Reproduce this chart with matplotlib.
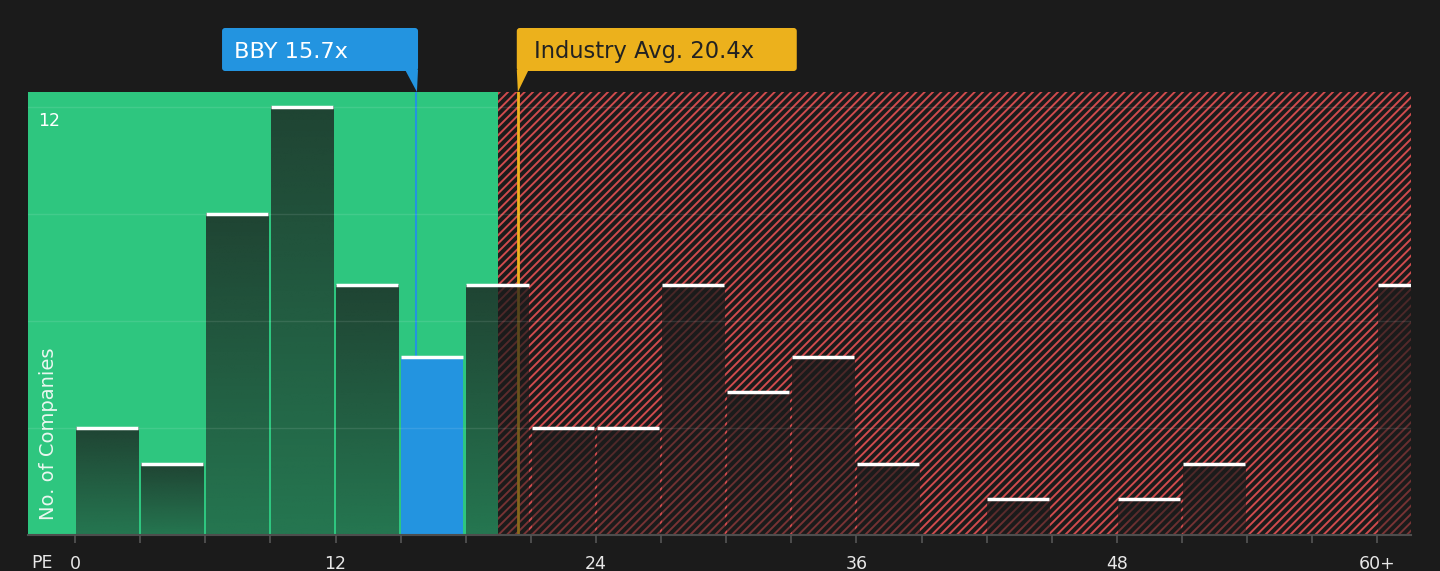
import numpy as np
import matplotlib
matplotlib.use('Agg')
import matplotlib.pyplot as plt
import matplotlib.transforms as mtransforms
from matplotlib.patches import FancyBboxPatch, Polygon
from matplotlib.colors import to_rgb

# data
pe_bins = np.arange(0, 63, 3)          # left edge of each 3x bin, last one is 60+
counts = [3, 2, 9, 12, 7, 5, 7, 3, 3, 7, 4, 5, 2, 0, 1, 0, 1, 2, 0, 0, 7]
tick_pos = [0, 12, 24, 36, 48, 60]
tick_labels = ['0', '12', '24', '36', '48', '60+']
company = 'BBY'
company_pe = 15.7
industry_pe = 20.4
fair_limit = 19.5

BG = '#1b1b1b'
GREEN = '#2ec67f'
RED = '#d04b4d'
BLUE = '#2394e0'
GOLD = '#ecb11c'
TXT = '#e8e8e8'

plt.rcParams['font.family'] = 'DejaVu Sans'
plt.rcParams['hatch.linewidth'] = 1.4
plt.rcParams['hatch.color'] = RED

fig = plt.figure(figsize=(14.4, 5.71), dpi=100, facecolor=BG)
ax = fig.add_axes([28 / 1440, 36 / 571, 1383 / 1440, 443 / 571])
ax.set_facecolor(BG)
xmin, xmax = -2.17, 61.55
ymax = 12.42

# valuation zones
ax.axvspan(xmin, fair_limit, color=GREEN, lw=0, zorder=0)
ax.axvspan(fair_limit, xmax, facecolor='none', edgecolor=RED, hatch='////', lw=0, zorder=0)

ax.axvline(company_pe, color=BLUE, lw=1.5, zorder=1)
ax.axvline(industry_pe, color=GOLD, lw=2, zorder=1)

bars = ax.bar(pe_bins + 0.03, counts, width=2.86, align='edge', color='none', lw=0, zorder=2)
for b, start in zip(bars, pe_bins):
    h = b.get_height()
    if h == 0:
        continue
    x0, w = b.get_x(), b.get_width()
    if start <= company_pe < start + 3:
        b.set_facecolor(BLUE)
    else:
        # dark overlay, fading towards the bottom
        grad = np.zeros((64, 1, 4))
        grad[..., :3] = to_rgb(BG)
        grad[:, 0, 3] = np.linspace(0.76, 0.47, 64)
        ax.imshow(grad, extent=[x0, x0 + w, 0, h], origin='upper',
                  aspect='auto', interpolation='bilinear', zorder=2)
    ax.hlines(h, x0, x0 + w, color='white', lw=2.5, zorder=4)

ax.set_xlim(xmin, xmax)
ax.set_ylim(0, ymax)

ax.set_yticks([3, 6, 9, 12])
ax.grid(axis='y', color='white', alpha=0.1, lw=1)
ax.set_axisbelow(False)
ax.tick_params(axis='y', length=0, labelleft=False)

ax.set_xticks(tick_pos, tick_labels)
ax.set_xticks(pe_bins, minor=True)
ax.tick_params(axis='x', which='both', length=6, width=1.2, color='#555555',
               labelsize=12.5, labelcolor=TXT, pad=8.5)
for s in ['top', 'right', 'left']:
    ax.spines[s].set_visible(False)
ax.spines['bottom'].set_color('#4d4d4d')
ax.spines['bottom'].set_linewidth(1.5)

ax.annotate('12', xy=(0, 12), xycoords=('axes fraction', 'data'),
            xytext=(7.5, -13.5), textcoords='offset points',
            ha='left', va='baseline', fontsize=12.5, color='white')
ax.text(0.0145, 0.42, 'No. of Companies', rotation=90, ha='center', va='bottom',
        fontsize=14, color='#eaf7f0',
        transform=mtransforms.blended_transform_factory(ax.transAxes, ax.transData))
fig.text(31 / 1440, 1 - 563 / 571, 'PE', ha='left', va='center',
         fontsize=12.5, color=TXT)

# callouts
trans = mtransforms.blended_transform_factory(ax.transData, ax.transAxes)
yb, yt = 1.0474, 1.1445
aspect = 0.049

bx0 = company_pe - 8.93
ax.add_patch(FancyBboxPatch((bx0, yb), company_pe + 0.1 - bx0, yt - yb,
                            boxstyle='round,pad=0,rounding_size=0.14',
                            mutation_aspect=aspect, transform=trans,
                            color=BLUE, lw=0, clip_on=False))
ax.add_patch(Polygon([(company_pe - 0.5, yb + 0.003), (company_pe + 0.1, yb + 0.003),
                      (company_pe + 0.05, 1.0)], closed=True, transform=trans,
                     color=BLUE, lw=0, clip_on=False))
ax.text(bx0 + 0.55, (yb + yt) / 2 - 0.005, f'{company} {company_pe}x', transform=trans,
        ha='left', va='center', fontsize=16.2, color='white')

ix0 = industry_pe - 0.05
ax.add_patch(FancyBboxPatch((ix0, yb), 12.9, yt - yb,
                            boxstyle='round,pad=0,rounding_size=0.14',
                            mutation_aspect=aspect, transform=trans,
                            color=GOLD, lw=0, clip_on=False))
ax.add_patch(Polygon([(industry_pe - 0.05, yb + 0.003), (industry_pe + 0.5, yb + 0.003),
                      (industry_pe, 1.0)], closed=True, transform=trans,
                     color=GOLD, lw=0, clip_on=False))
ax.text(ix0 + 0.78, (yb + yt) / 2 - 0.005, f'Industry Avg. {industry_pe}x', transform=trans,
        ha='left', va='center', fontsize=16.3, color='#222222')

fig.savefig('out.png', dpi=100, facecolor=BG)
